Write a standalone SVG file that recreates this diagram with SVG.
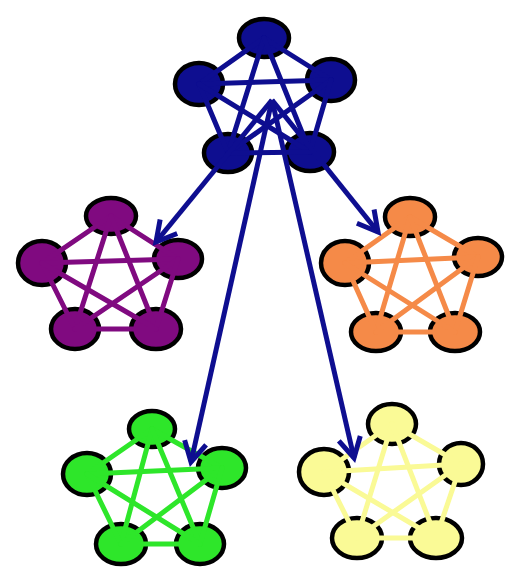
<svg xmlns="http://www.w3.org/2000/svg" width="512" height="576" viewBox="0 0 512 576">
<defs>
<style>
.n{stroke:#000;stroke-width:4.5}
.e line{stroke-width:5;stroke-linecap:round}
.navy{fill:#0e0e90}.navy-e line{stroke:#0e0e90}
.purple{fill:#800a80}.purple-e line{stroke:#800a80}
.orange{fill:#f58a48}.orange-e line{stroke:#f58a48}
.green{fill:#2ee62a}.green-e line{stroke:#2ee62a}
.yellow{fill:#fafa96}.yellow-e line{stroke:#fafa96}
.arrow{stroke:#0e0e90;stroke-width:5;fill:none}
</style>
<marker id="ah" viewBox="-4 -16 30 32" refX="20" refY="0" markerWidth="30" markerHeight="32" markerUnits="userSpaceOnUse" orient="auto">
<path d="M0 -11 L20 0 L0 11" fill="none" stroke="#0e0e90" stroke-width="5"/>
</marker>
</defs>
<rect width="512" height="576" fill="#fff"/>

<g id="cluster-navy">
<g id="navy-t"><ellipse class="n navy" cx="264" cy="38" rx="25" ry="19"/></g>
<g id="navy-l"><ellipse class="n navy" cx="199" cy="84" rx="24" ry="21"/></g>
<g id="navy-r"><ellipse class="n navy" cx="331" cy="80" rx="24" ry="21"/></g>
<g id="navy-bl"><ellipse class="n navy" cx="228" cy="153" rx="24" ry="19"/></g>
<g id="navy-br"><ellipse class="n navy" cx="310" cy="152" rx="24" ry="19"/></g>
<g class="e navy-e">
<line x1="264" y1="38" x2="199" y2="84"/><line x1="264" y1="38" x2="331" y2="80"/>
<line x1="264" y1="38" x2="228" y2="153"/><line x1="264" y1="38" x2="310" y2="152"/>
<line x1="199" y1="84" x2="331" y2="80"/><line x1="199" y1="84" x2="228" y2="153"/>
<line x1="199" y1="84" x2="310" y2="152"/><line x1="331" y1="80" x2="228" y2="153"/>
<line x1="331" y1="80" x2="310" y2="152"/><line x1="228" y1="153" x2="310" y2="152"/>
</g>
</g>

<g id="cluster-purple">
<g id="purple-t"><ellipse class="n purple" cx="111" cy="216" rx="25" ry="18"/></g>
<g id="purple-l"><ellipse class="n purple" cx="42" cy="263" rx="24" ry="22"/></g>
<g id="purple-r"><ellipse class="n purple" cx="178" cy="259" rx="24" ry="19"/></g>
<g id="purple-bl"><ellipse class="n purple" cx="75" cy="329" rx="24" ry="20"/></g>
<g id="purple-br"><ellipse class="n purple" cx="156" cy="329" rx="25" ry="20"/></g>
<g class="e purple-e">
<line x1="111" y1="216" x2="42" y2="263"/><line x1="111" y1="216" x2="178" y2="259"/>
<line x1="111" y1="216" x2="75" y2="329"/><line x1="111" y1="216" x2="156" y2="329"/>
<line x1="42" y1="263" x2="178" y2="259"/><line x1="42" y1="263" x2="75" y2="329"/>
<line x1="42" y1="263" x2="156" y2="329"/><line x1="178" y1="259" x2="75" y2="329"/>
<line x1="178" y1="259" x2="156" y2="329"/><line x1="75" y1="329" x2="156" y2="329"/>
</g>
</g>

<g id="cluster-orange">
<g id="orange-t"><ellipse class="n orange" cx="410" cy="217" rx="25" ry="19"/></g>
<g id="orange-l"><ellipse class="n orange" cx="345" cy="263" rx="24" ry="22"/></g>
<g id="orange-r"><ellipse class="n orange" cx="478" cy="257" rx="24" ry="19"/></g>
<g id="orange-bl"><ellipse class="n orange" cx="376" cy="332" rx="25" ry="19"/></g>
<g id="orange-br"><ellipse class="n orange" cx="455" cy="332" rx="25" ry="19"/></g>
<g class="e orange-e">
<line x1="410" y1="217" x2="345" y2="263"/><line x1="410" y1="217" x2="478" y2="257"/>
<line x1="410" y1="217" x2="376" y2="332"/><line x1="410" y1="217" x2="455" y2="332"/>
<line x1="345" y1="263" x2="478" y2="257"/><line x1="345" y1="263" x2="376" y2="332"/>
<line x1="345" y1="263" x2="455" y2="332"/><line x1="478" y1="257" x2="376" y2="332"/>
<line x1="478" y1="257" x2="455" y2="332"/><line x1="376" y1="332" x2="455" y2="332"/>
</g>
</g>

<g id="cluster-green">
<g id="green-t"><ellipse class="n green" cx="152" cy="429" rx="23" ry="18"/></g>
<g id="green-l"><ellipse class="n green" cx="87" cy="474" rx="24" ry="21"/></g>
<g id="green-r"><ellipse class="n green" cx="222" cy="468" rx="24" ry="20"/></g>
<g id="green-bl"><ellipse class="n green" cx="121" cy="544" rx="25" ry="20"/></g>
<g id="green-br"><ellipse class="n green" cx="200" cy="544" rx="24" ry="20"/></g>
<g class="e green-e">
<line x1="152" y1="429" x2="87" y2="474"/><line x1="152" y1="429" x2="222" y2="468"/>
<line x1="152" y1="429" x2="121" y2="544"/><line x1="152" y1="429" x2="200" y2="544"/>
<line x1="87" y1="474" x2="222" y2="468"/><line x1="87" y1="474" x2="121" y2="544"/>
<line x1="87" y1="474" x2="200" y2="544"/><line x1="222" y1="468" x2="121" y2="544"/>
<line x1="222" y1="468" x2="200" y2="544"/><line x1="121" y1="544" x2="200" y2="544"/>
</g>
</g>

<g id="cluster-yellow">
<g id="yellow-t"><ellipse class="n yellow" cx="392" cy="424" rx="24" ry="20"/></g>
<g id="yellow-l"><ellipse class="n yellow" cx="324" cy="472" rx="25" ry="23"/></g>
<g id="yellow-r"><ellipse class="n yellow" cx="461" cy="464" rx="22" ry="21"/></g>
<g id="yellow-bl"><ellipse class="n yellow" cx="357" cy="538" rx="25" ry="20"/></g>
<g id="yellow-br"><ellipse class="n yellow" cx="436" cy="538" rx="26" ry="20"/></g>
<g class="e yellow-e">
<line x1="392" y1="424" x2="324" y2="472"/><line x1="392" y1="424" x2="461" y2="464"/>
<line x1="392" y1="424" x2="357" y2="538"/><line x1="392" y1="424" x2="436" y2="538"/>
<line x1="324" y1="472" x2="461" y2="464"/><line x1="324" y1="472" x2="357" y2="538"/>
<line x1="324" y1="472" x2="436" y2="538"/><line x1="461" y1="464" x2="357" y2="538"/>
<line x1="461" y1="464" x2="436" y2="538"/><line x1="357" y1="538" x2="436" y2="538"/>
</g>
</g>

<g id="connectors">
<line class="arrow" x1="272" y1="100" x2="156" y2="242" marker-end="url(#ah)"/>
<line class="arrow" x1="272" y1="100" x2="378" y2="232" marker-end="url(#ah)"/>
<line class="arrow" x1="272" y1="100" x2="191" y2="462" marker-end="url(#ah)"/>
<line class="arrow" x1="272" y1="100" x2="354" y2="458" marker-end="url(#ah)"/>
</g>
</svg>
